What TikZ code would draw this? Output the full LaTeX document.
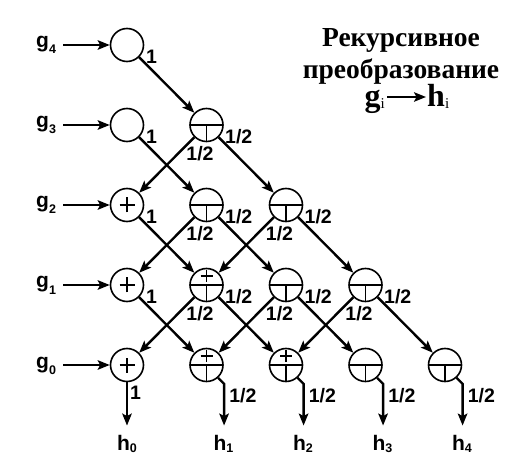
\documentclass[tikz,border=0pt]{standalone}
\usepackage{fontspec}
\setmainfont{Liberation Serif}
\setsansfont{Liberation Sans}
\usetikzlibrary{arrows.meta}
\newcommand{\sbx}[2]{\raisebox{#1}{\fontsize{12.5}{12.5}\selectfont #2}}
\begin{document}
\begin{tikzpicture}[x=1pt,y=-1pt,
  nd/.style={circle,draw,line width=1.6pt,minimum size=33pt,inner sep=0pt},
  plusc/.style={nd,path picture={\draw[line width=1.4pt]
     (path picture bounding box.center) +(-7.5pt,0pt) -- +(7.5pt,0pt)
     (path picture bounding box.center) +(0pt,-7.5pt) -- +(0pt,7.5pt);}},
  halft/.style={nd,path picture={\draw[line width=1.4pt]
     (path picture bounding box.west) -- (path picture bounding box.east)
     (path picture bounding box.center) -- (path picture bounding box.south);}},
  plust/.style={nd,path picture={\draw[line width=1.4pt]
     (path picture bounding box.west) -- (path picture bounding box.east)
     (path picture bounding box.center) -- (path picture bounding box.south)
     (path picture bounding box.center) ++(0pt,9pt) +(-6pt,0pt) -- +(6pt,0pt) +(0pt,-6pt) -- +(0pt,6pt);}},
  arr/.style={line width=2.4pt,-{Stealth[length=12pt,width=9.5pt,inset=2.5pt]}},
  lb/.style={font=\sffamily\bfseries\fontsize{19.5}{19.5}\selectfont,inner sep=0pt},
  gl/.style={font=\sffamily\bfseries\fontsize{21}{21}\selectfont,inner sep=0pt},
  tt/.style={font=\bfseries\fontsize{27.5}{27.5}\selectfont,inner sep=0pt},
  tt3/.style={font=\bfseries\fontsize{32}{32}\selectfont,inner sep=0pt},
]
\useasboundingbox (0,0) rectangle (530,470);
% nodes
\node[nd]    (a40) at (127,45) {};
\node[nd]    (a30) at (127,125) {};
\node[halft] (a31) at (206.5,125) {};
\node[plusc] (a20) at (127,205) {};
\node[halft] (a21) at (206.5,205) {};
\node[halft] (a22) at (286,205) {};
\node[plusc] (a10) at (127,285) {};
\node[plust] (a11) at (206.5,285) {};
\node[halft] (a12) at (286,285) {};
\node[halft] (a13) at (365.5,285) {};
\node[plusc] (a00) at (127,365) {};
\node[plust] (a01) at (206.5,365) {};
\node[plust] (a02) at (286,365) {};
\node[halft] (a03) at (365.5,365) {};
\node[halft] (a04) at (445,365) {};
% inputs
\foreach \r/\y in {4/45,3/125,2/205,1/285,0/365}{
  \node[gl,anchor=base west] (g\r) at (36,{\y+3}) {g\sbx{-6pt}{\r}};
  \draw[arr,shorten <=7pt] (g\r.east |- a\r0) -- (a\r0);
}
% connectors
\draw[arr] (a40) -- (a31);
\draw[arr] (a30) -- (a21);
\draw[arr] (a31) -- (a20);
\draw[arr] (a31) -- (a22);
\draw[arr] (a20) -- (a11);
\draw[arr] (a21) -- (a10);
\draw[arr] (a21) -- (a12);
\draw[arr] (a22) -- (a11);
\draw[arr] (a22) -- (a13);
\draw[arr] (a10) -- (a01);
\draw[arr] (a11) -- (a00);
\draw[arr] (a11) -- (a02);
\draw[arr] (a12) -- (a01);
\draw[arr] (a12) -- (a03);
\draw[arr] (a13) -- (a02);
\draw[arr] (a13) -- (a04);
% weight labels
\foreach \n in {a40,a30,a20,a10}{
  \node[lb,anchor=west] at ([shift={(19,12)}]\n) {1};
}
\foreach \n in {a31,a21,a22,a11,a12,a13}{
  \node[lb,anchor=west] at ([shift={(18.5,11.5)}]\n) {1/2};
  \node[lb] at ([shift={(-6.5,28.5)}]\n) {1/2};
}
% outputs
\node[gl,anchor=base] (h0) at (127,450) {h\sbx{-2pt}{0}};
\foreach \k/\x in {1/206.5,2/286,3/365.5,4/445}{
  \node[gl,anchor=base] (h\k) at ({\x+17},450) {h\sbx{-2pt}{\k}};
}
\draw[arr,shorten >=9pt] (a00) -- (a00 |- h0.north);
\node[lb,anchor=west] at (130,393) {1};
\foreach \k in {1,2,3,4}{
  \draw[arr,shorten >=9pt] (a0\k.-48) -- ++(6,6) coordinate (t\k) -- (t\k |- h\k.north);
  \node[lb,anchor=west] at ([shift={(5,12)}]t\k) {1/2};
}
% title
\node[tt,anchor=base] (ti1) at (401,47) {Рекурсивное};
\node[tt,anchor=base] (ti2) at (401,79) {преобразование};
\node[tt3,anchor=base east] (gi) at (385,107) {g\raisebox{-2pt}{\mdseries\fontsize{15}{15}\selectfont i}};
\node[tt3,anchor=base west] (hi) at (427,107) {h\raisebox{-2pt}{\mdseries\fontsize{15}{15}\selectfont i}};
\coordinate (ta) at ([shift={(2,-10)}]gi.base east);
\draw[arr,line width=2pt,shorten >=1pt] (ta) -- (ta -| hi.west);
\end{tikzpicture}
\end{document}
